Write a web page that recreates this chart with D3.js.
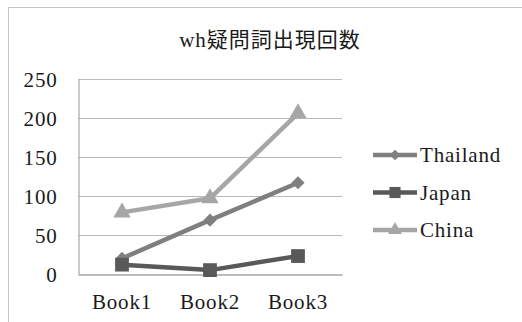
<!DOCTYPE html>
<html lang="ja">
<head>
<meta charset="UTF-8">
<title>wh疑問詞出現回数</title>
<script src="https://d3js.org/d3.v7.min.js"></script>
<style>
  body { margin: 0; background: #fff; }
</style>
</head>
<body>
<svg id="chart"></svg>
<script>
// data
const categories = ["Book1", "Book2", "Book3"];
const seriesNames = ["Thailand", "Japan", "China"];
const thailand = [20, 69, 117];
const japan = [12, 5, 23];
const china = [79, 97, 206];
const yTicks = [0, 50, 100, 150, 200, 250];

const W = 522, H = 322;
const plot = {left: 78, right: 342, top: 79, bottom: 274};
const serif = '"Liberation Serif", "Noto Sans CJK JP", serif';

const svg = d3.select("#chart").attr("width", W).attr("height", H);

// outer chart frame
svg.append("rect")
    .attr("x", 8.5).attr("y", 7.5)
    .attr("width", 540).attr("height", 340)
    .attr("fill", "none")
    .attr("stroke", "#c4c4c4")
    .attr("stroke-width", 1);

// title
svg.append("text")
    .attr("x", 270).attr("y", 47)
    .attr("text-anchor", "middle")
    .style("font-family", serif)
    .style("font-size", "21px")
    .style("letter-spacing", "1px")
    .style("fill", "#1a1a1a")
    .text("wh疑問詞出現回数");

const x = d3.scaleBand()
    .domain(categories)
    .range([plot.left, plot.right]);

const y = d3.scaleLinear()
    .domain([0, 250])
    .range([plot.bottom, plot.top]);

// gridlines
svg.append("g")
    .selectAll("line")
    .data(yTicks.filter(d => d > 0))
    .enter()
    .append("line")
    .attr("x1", plot.left).attr("x2", plot.right)
    .attr("y1", d => Math.round(y(d)) + 0.5)
    .attr("y2", d => Math.round(y(d)) + 0.5)
    .attr("stroke", "#b8b8b8")
    .attr("stroke-width", 1);

// y axis
const yAxis = svg.append("g")
    .attr("transform", `translate(${plot.left + 0.5},0)`)
    .call(d3.axisLeft(y).tickValues(yTicks).tickSize(0).tickPadding(21));
yAxis.select(".domain").attr("stroke", "#a6a6a6").attr("stroke-width", 1.2);
yAxis.selectAll("text")
    .style("font-family", serif)
    .style("font-size", "21px")
    .style("letter-spacing", "0.8px")
    .style("fill", "#1a1a1a")
    .attr("dy", "0.34em");

// x axis
const xAxis = svg.append("g")
    .attr("transform", `translate(0,${Math.round(y(0)) + 0.5})`)
    .call(d3.axisBottom(x).tickSize(0).tickPadding(20));
xAxis.select(".domain").attr("stroke", "#a6a6a6").attr("stroke-width", 1.5);
xAxis.selectAll("text")
    .style("font-family", serif)
    .style("font-size", "21px")
    .style("letter-spacing", "0.8px")
    .style("fill", "#1a1a1a")
    .attr("dy", "0.71em");

const colors = {Thailand: "#7f7f7f", Japan: "#595959", China: "#a6a6a6"};
const shapes = {Thailand: d3.symbolDiamond2, Japan: d3.symbolSquare, China: d3.symbolTriangle};
const sizes = {Thailand: 110, Japan: 190, China: 130};
const values = {Thailand: thailand, Japan: japan, China: china};

const line = d3.line()
    .x((d, i) => x(categories[i]) + x.bandwidth() / 2)
    .y(d => y(d));

// draw series (China first so darker lines sit on top)
["China", "Thailand", "Japan"].forEach(name => {
    svg.append("path")
        .datum(values[name])
        .attr("fill", "none")
        .attr("stroke", colors[name])
        .attr("stroke-width", 4.5)
        .attr("stroke-linejoin", "round")
        .attr("d", line);
    svg.append("g")
        .selectAll("path")
        .data(values[name])
        .enter()
        .append("path")
        .attr("transform", (d, i) => `translate(${x(categories[i]) + x.bandwidth() / 2},${y(d)})`)
        .attr("d", d3.symbol().type(shapes[name]).size(sizes[name]))
        .attr("fill", colors[name]);
});

// legend
const legend = svg.append("g");
seriesNames.forEach((name, i) => {
    const ly = 155 + i * 37.5;
    legend.append("line")
        .attr("x1", 373).attr("x2", 417)
        .attr("y1", ly).attr("y2", ly)
        .attr("stroke", colors[name])
        .attr("stroke-width", 4.5);
    legend.append("path")
        .attr("transform", `translate(395,${ly})`)
        .attr("d", d3.symbol().type(shapes[name]).size(sizes[name] * 0.65))
        .attr("fill", colors[name]);
    legend.append("text")
        .attr("x", 420).attr("y", ly)
        .attr("dy", "0.34em")
        .style("font-family", serif)
        .style("font-size", "21px")
        .style("letter-spacing", "0.8px")
        .style("fill", "#1a1a1a")
        .text(name);
});
</script>
</body>
</html>
